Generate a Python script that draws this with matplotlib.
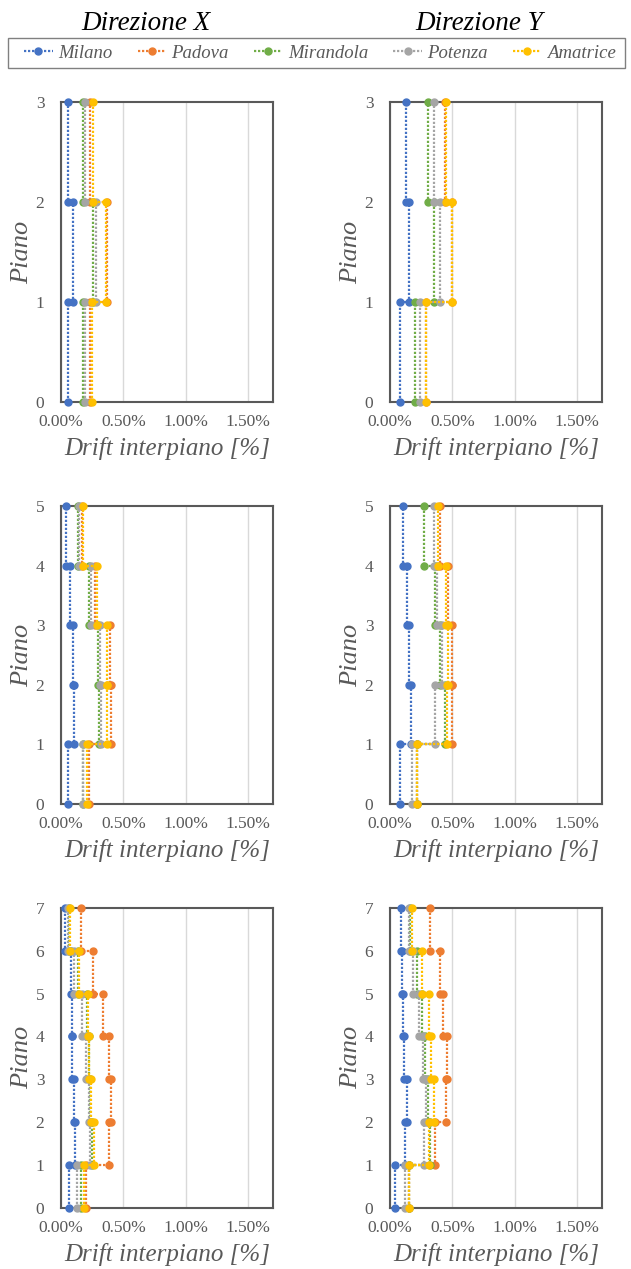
import matplotlib
matplotlib.use("Agg")
import matplotlib.pyplot as plt
from matplotlib.patches import Rectangle
from matplotlib.ticker import FuncFormatter, MultipleLocator

# series, in legend order
names = ["Milano", "Padova", "Mirandola", "Potenza", "Amatrice"]
colors = ["#4472C4", "#ED7D31", "#70AD47", "#A5A5A5", "#FFC000"]

# interstorey drift [%] per story (story 1 = ground), series in the order of names
x_3p = [[0.06, 0.095, 0.06],
        [0.235, 0.37, 0.23],
        [0.18, 0.258, 0.174],
        [0.19, 0.28, 0.19],
        [0.25, 0.36, 0.257]]
y_3p = [[0.084, 0.155, 0.132],
        [0.285, 0.50, 0.44],
        [0.203, 0.353, 0.308],
        [0.237, 0.40, 0.353],
        [0.29, 0.50, 0.45]]
x_5p = [[0.058, 0.105, 0.10, 0.069, 0.041],
        [0.224, 0.40, 0.39, 0.27, 0.168],
        [0.174, 0.307, 0.298, 0.224, 0.133],
        [0.174, 0.32, 0.312, 0.243, 0.146],
        [0.207, 0.367, 0.367, 0.285, 0.174]]
y_5p = [[0.079, 0.168, 0.155, 0.137, 0.105],
        [0.22, 0.50, 0.50, 0.466, 0.40],
        [0.216, 0.44, 0.40, 0.36, 0.276],
        [0.18, 0.36, 0.413, 0.379, 0.353],
        [0.22, 0.458, 0.466, 0.447, 0.387]]
x_7p = [[0.063, 0.109, 0.104, 0.09, 0.085, 0.077, 0.036],
        [0.20, 0.385, 0.404, 0.385, 0.336, 0.254, 0.158],
        [0.158, 0.249, 0.232, 0.221, 0.205, 0.139, 0.068],
        [0.131, 0.232, 0.221, 0.20, 0.172, 0.104, 0.057],
        [0.186, 0.262, 0.24, 0.227, 0.213, 0.145, 0.071]]
y_7p = [[0.043, 0.121, 0.137, 0.116, 0.102, 0.097, 0.089],
        [0.15, 0.36, 0.446, 0.457, 0.425, 0.398, 0.323],
        [0.156, 0.323, 0.304, 0.277, 0.258, 0.215, 0.161],
        [0.124, 0.269, 0.29, 0.263, 0.231, 0.183, 0.156],
        [0.156, 0.315, 0.349, 0.331, 0.312, 0.258, 0.177]]

panels = [x_3p, y_3p, x_5p, y_5p, x_7p, y_7p]
col_titles = ["Direzione X", "Direzione Y"]

plt.rcParams["font.family"] = "serif"
plt.rcParams["font.serif"] = ["Liberation Serif"]
GREY = "#595959"

fig = plt.figure(figsize=(6.31, 12.69), dpi=100)
W, H = 631, 1269

col_left = [61, 390]
ax_w = 212
rows = [(102, 402), (506, 804), (908, 1207.5)]


def steps(drifts):
    xs, ys = [], []
    for i, d in enumerate(drifts):
        xs += [d, d]
        ys += [i, i + 1]
    return xs, ys


handles = []
for k, data in enumerate(panels):
    r, c = divmod(k, 2)
    top, bot = rows[r]
    ax = fig.add_axes([col_left[c] / W, 1 - bot / H, ax_w / W, (bot - top) / H])
    n = len(data[0])
    for name, col, d in zip(names, colors, data):
        xs, ys = steps(d)
        h, = ax.plot(xs, ys, linestyle=(0, (1, 0.8)), linewidth=1.6, color=col,
                     marker="o", markersize=5, label=name, clip_on=False, zorder=3)
        if k == 0:
            handles.append(h)
    ax.set_xlim(0, 1.7)
    ax.set_ylim(0, n)
    ax.xaxis.set_major_locator(MultipleLocator(0.5))
    ax.yaxis.set_major_locator(MultipleLocator(1))
    ax.xaxis.set_major_formatter(FuncFormatter(lambda v, p: f"{v:.2f}%"))
    ax.grid(axis="x", color="#D9D9D9", linewidth=1.0)
    ax.set_axisbelow(True)
    for s in ax.spines.values():
        s.set_color("#595959")
        s.set_linewidth(1.5)
    ax.tick_params(length=0, labelsize=12.5, labelcolor=GREY)
    ax.tick_params(axis="y", pad=12)
    ax.tick_params(axis="x", pad=9)
    ax.set_ylabel("Piano", fontstyle="italic", fontsize=19, color=GREY, labelpad=2)
    ax.set_xlabel("Drift interpiano [%]", fontstyle="italic", fontsize=18,
                  color=GREY, labelpad=5)

# column headers
for c, t in enumerate(col_titles):
    xc = [146, 479][c]
    fig.text(xc / W, 1 - 24 / H, t, ha="center", va="center",
             fontstyle="italic", fontsize=19.5, color="black")

# legend box drawn separately so it spans the full width
fig.patches.append(Rectangle((8 / W, 1 - 68 / H), 617 / W, 30 / H, transform=fig.transFigure,
                             facecolor="white", edgecolor="#808080", linewidth=1.0, zorder=0))
leg = fig.legend(handles=handles, loc="center", ncol=5,
                 bbox_to_anchor=(320 / W, 1 - 53 / H),
                 prop={"style": "italic", "size": 13.5},
                 handlelength=1.5, handletextpad=0.3, columnspacing=1.35,
                 frameon=False, borderpad=0.25, borderaxespad=0)
for t in leg.get_texts():
    t.set_color(GREY)

plt.savefig("out.png", dpi=100)
